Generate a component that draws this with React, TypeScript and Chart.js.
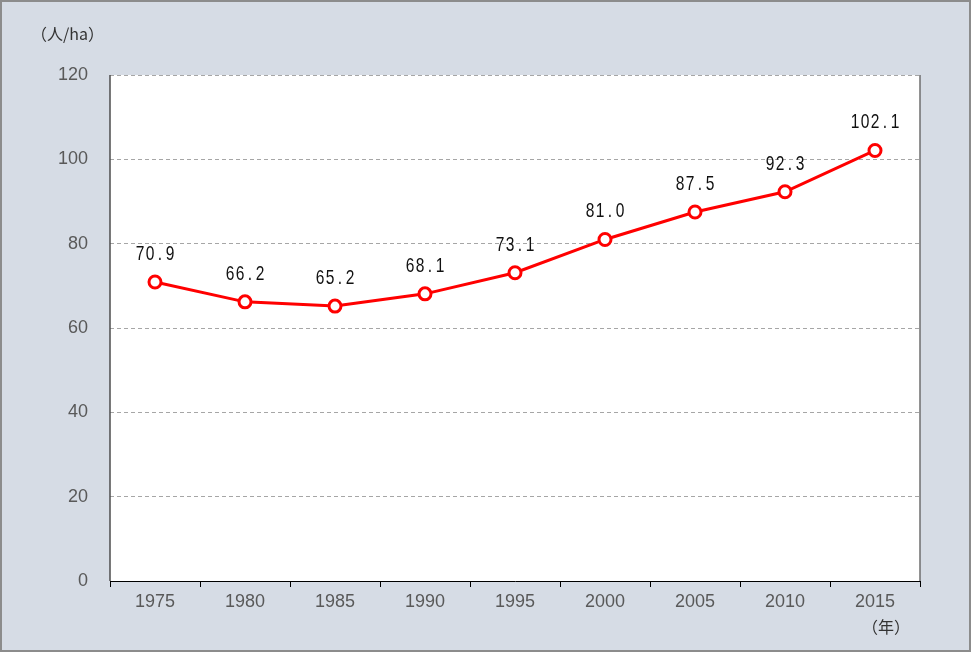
import React, { useEffect, useRef } from "react";
import { Chart, registerables } from "chart.js";

Chart.register(...registerables);

const years = ["1975", "1980", "1985", "1990", "1995", "2000", "2005", "2010", "2015"];
const density = [70.9, 66.2, 65.2, 68.1, 73.1, 81.0, 87.5, 92.3, 102.1];
const yMin = 0;
const yMax = 120;
const yStep = 20;
const yTitle = "（人/ha）";
const xTitle = "（年）";

const W = 971;
const H = 652;
const BG = "#D6DCE5";
const SANS = "'Liberation Sans', Arial, sans-serif";
const CJK = "'Noto Sans CJK JP', 'Noto Sans', sans-serif";

const decorPlugin = {
  id: "decor",
  beforeDraw(chart: any) {
    const { ctx, chartArea: a } = chart;
    ctx.save();
    ctx.fillStyle = BG;
    ctx.fillRect(0, 0, W, H);
    ctx.strokeStyle = "#8C8C8C";
    ctx.lineWidth = 2;
    ctx.strokeRect(1, 1, W - 2, H - 2);
    ctx.fillStyle = "#FFFFFF";
    ctx.fillRect(a.left, a.top, a.right - a.left, a.bottom - a.top);
    ctx.restore();
  },
  afterDatasetsDraw(chart: any) {
    const { ctx, chartArea: a } = chart;
    ctx.save();
    ctx.setLineDash([]);
    ctx.strokeStyle = "#4D4D4D";
    ctx.lineWidth = 1.5;
    ctx.beginPath();
    ctx.moveTo(a.left, a.bottom);
    ctx.lineTo(a.left, a.top);
    ctx.stroke();
    ctx.strokeStyle = "#6E6E6E";
    ctx.beginPath();
    ctx.moveTo(a.right, a.top);
    ctx.lineTo(a.right, a.bottom);
    ctx.stroke();
    ctx.restore();
  },
  afterDraw(chart: any) {
    const { ctx } = chart;
    ctx.save();
    // titles
    ctx.fillStyle = "#333333";
    ctx.font = `16px ${CJK}`;
    ctx.textBaseline = "middle";
    ctx.textAlign = "left";
    ctx.fillText(yTitle, 31, 34);
    ctx.fillText(xTitle, 862, 627);
    // data labels (monospaced pitch, condensed)
    const meta = chart.getDatasetMeta(0);
    ctx.fillStyle = "#111111";
    ctx.font = `21px ${SANS}`;
    ctx.textAlign = "center";
    ctx.textBaseline = "middle";
    const pitch = 10;
    const sx = 0.74;
    meta.data.forEach((pt: any, i: number) => {
      const txt = density[i].toFixed(1);
      const total = pitch * txt.length;
      const x0 = pt.x - total / 2;
      const y = pt.y - 28;
      for (let c = 0; c < txt.length; c++) {
        ctx.save();
        ctx.translate(x0 + pitch * (c + 0.5), y);
        ctx.scale(sx, 1);
        ctx.fillText(txt[c], 0, 0);
        ctx.restore();
      }
    });
    ctx.restore();
  },
};

export default function App() {
  const ref = useRef<HTMLCanvasElement>(null);
  useEffect(() => {
    document.body.style.margin = "0";
    const chart = new Chart(ref.current as HTMLCanvasElement, {
      type: "line",
      data: {
        labels: years,
        datasets: [
          {
            data: density,
            borderColor: "#FF0000",
            borderWidth: 3,
            pointRadius: 6,
            pointBorderWidth: 3,
            pointBackgroundColor: "#FFFFFF",
            pointBorderColor: "#FF0000",
            tension: 0,
            fill: false,
          },
        ],
      },
      options: {
        animation: false,
        responsive: false,
        devicePixelRatio: 1,
        layout: { padding: { left: 0, top: 75, right: 51, bottom: 0 } },
        plugins: { legend: { display: false }, tooltip: { enabled: false } },
        scales: {
          x: {
            type: "category",
            offset: true,
            grid: {
              offset: true,
              drawOnChartArea: false,
              drawTicks: true,
              tickLength: 6,
              color: "#000000",
            },
            border: { display: true, color: "#000000", width: 1 },
            ticks: {
              color: "#595959",
              font: { family: SANS, size: 18 },
              padding: 4,
              maxRotation: 0,
            },
            afterFit(s: any) {
              s.height = H - 581;
            },
          },
          y: {
            min: yMin,
            max: yMax,
            grid: {
              drawTicks: false,
              color: "#A6A6A6",
              lineWidth: 1,
            },
            border: { display: false, dash: [4, 3] },
            ticks: {
              stepSize: yStep,
              color: "#595959",
              font: { family: SANS, size: 18 },
              padding: 22,
            },
            afterFit(s: any) {
              s.width = 110;
            },
          },
        },
      } as any,
      plugins: [decorPlugin],
    });
    return () => chart.destroy();
  }, []);
  return <canvas ref={ref} width={W} height={H} style={{ display: "block", width: W, height: H }} />;
}
